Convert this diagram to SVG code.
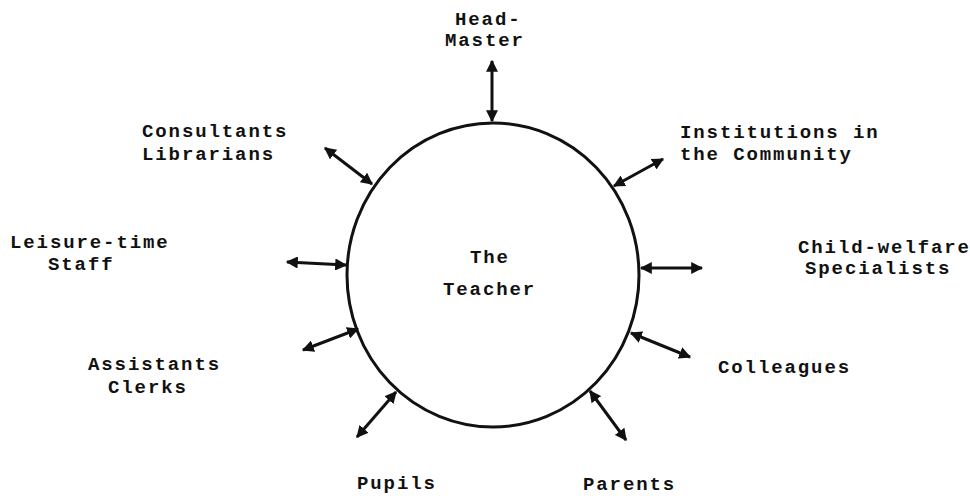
<svg xmlns="http://www.w3.org/2000/svg" width="970" height="496" viewBox="0 0 970 496">
<style>
text{font-family:"Liberation Mono","DejaVu Sans Mono",monospace;font-size:19px;font-weight:bold;letter-spacing:1.9px;fill:#111}
.c{fill:none;stroke:#111;stroke-width:3}
.a{stroke:#111;stroke-width:3;fill:none;marker-start:url(#h);marker-end:url(#h)}
</style>
<defs>
<marker id="h" viewBox="0 0 10 10" refX="9" refY="5" markerWidth="4" markerHeight="4" orient="auto-start-reverse" markerUnits="strokeWidth">
<path d="M0,0 L10,5 L0,10 z" fill="#111"/>
</marker>
</defs>
<rect width="970" height="496" fill="#fff"/>
<g id="teacher">
<ellipse class="c" cx="493" cy="275" rx="146" ry="152"/>
<text x="470" y="263">The</text>
<text x="443" y="295">Teacher</text>
</g>
<g id="headmaster"><text x="455" y="25">Head-</text><text x="445" y="46">Master</text></g>
<g id="consultants"><text x="142" y="137">Consultants</text><text x="142" y="160">Librarians</text></g>
<g id="institutions"><text x="680" y="138">Institutions in</text><text x="680" y="160">the Community</text></g>
<g id="leisure"><text x="10" y="248">Leisure-time</text><text x="48" y="270">Staff</text></g>
<g id="childwelfare"><text x="798" y="253">Child-welfare</text><text x="805" y="274">Specialists</text></g>
<g id="assistants"><text x="88" y="370">Assistants</text><text x="108" y="393">Clerks</text></g>
<g id="colleagues"><text x="718" y="373">Colleagues</text></g>
<g id="pupils"><text x="357" y="489">Pupils</text></g>
<g id="parents"><text x="583" y="490">Parents</text></g>
<g id="connectors">
<line class="a" x1="492" y1="61" x2="492" y2="121"/>
<line class="a" x1="325" y1="148" x2="372" y2="184"/>
<line class="a" x1="663" y1="159" x2="614" y2="186"/>
<line class="a" x1="287" y1="262" x2="346" y2="265"/>
<line class="a" x1="702" y1="268" x2="641" y2="268"/>
<line class="a" x1="303" y1="350" x2="358" y2="329"/>
<line class="a" x1="690" y1="357" x2="631" y2="333"/>
<line class="a" x1="357" y1="437" x2="396" y2="392"/>
<line class="a" x1="626" y1="440" x2="590" y2="391"/>
</g>
</svg>
